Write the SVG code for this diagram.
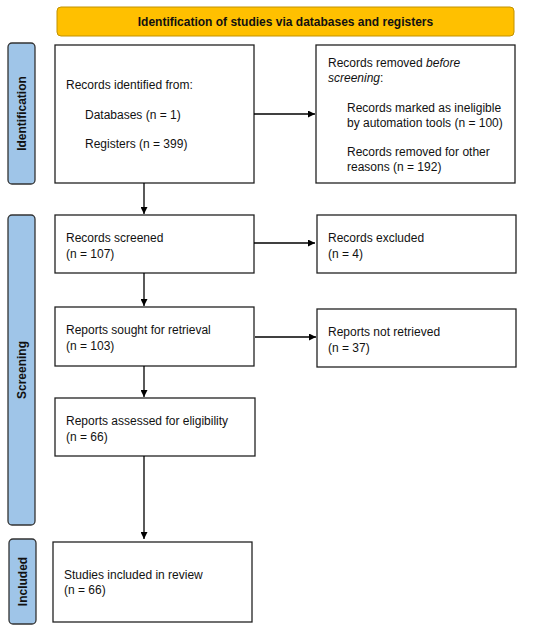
<svg xmlns="http://www.w3.org/2000/svg" width="550" height="630" viewBox="0 0 550 630">
<defs>
<marker id="ah" viewBox="0 0 10 10" refX="10" refY="5" markerWidth="7" markerHeight="7" markerUnits="userSpaceOnUse" orient="auto"><path d="M0,0 L10,5 L0,10 z" fill="#000"/></marker>
</defs>
<style>
.box{fill:#fff;stroke:#222;stroke-width:1.3}
.side{fill:#9FC5E8;stroke:#333;stroke-width:1.3}
.t{font-family:"Liberation Sans",Arial,sans-serif;font-size:12px;fill:#111}
.b{font-family:"Liberation Sans",Arial,sans-serif;font-size:12px;font-weight:bold;fill:#111}
.c{stroke:#000;stroke-width:1.3;fill:none;marker-end:url(#ah)}
</style>
<rect width="550" height="630" fill="#fff"/>
<g id="banner">
<rect x="57" y="7" width="457" height="29" rx="4" fill="#FFC000" stroke="#C29200" stroke-width="1"/>
<text class="b" x="285.5" y="26" text-anchor="middle">Identification of studies via databases and registers</text>
</g>
<g id="side-identification">
<rect class="side" x="8" y="43" width="27" height="141" rx="4"/>
<text class="b" transform="translate(26,113.5) rotate(-90)" text-anchor="middle">Identification</text>
</g>
<g id="side-screening">
<rect class="side" x="8" y="215" width="27" height="310" rx="4"/>
<text class="b" transform="translate(26,370) rotate(-90)" text-anchor="middle">Screening</text>
</g>
<g id="side-included">
<rect class="side" x="9" y="539" width="27" height="85" rx="4"/>
<text class="b" transform="translate(27,581.5) rotate(-90)" text-anchor="middle">Included</text>
</g>
<g id="records-identified">
<rect class="box" x="55" y="45" width="199" height="138"/>
<text class="t" x="66" y="89">Records identified from:</text>
<text class="t" x="85" y="119">Databases (n = 1)</text>
<text class="t" x="85" y="148">Registers (n = 399)</text>
</g>
<g id="records-removed">
<rect class="box" x="316" y="45" width="199" height="138"/>
<text class="t" x="328" y="67">Records removed <tspan font-style="italic">before</tspan></text>
<text class="t" x="328" y="82"><tspan font-style="italic">screening</tspan>:</text>
<text class="t" x="347" y="112">Records marked as ineligible</text>
<text class="t" x="347" y="127">by automation tools (n = 100)</text>
<text class="t" x="347" y="156">Records removed for other</text>
<text class="t" x="347" y="171">reasons (n = 192)</text>
</g>
<g id="records-screened">
<rect class="box" x="55" y="215" width="199" height="58"/>
<text class="t" x="66" y="242">Records screened</text>
<text class="t" x="66" y="258">(n = 107)</text>
</g>
<g id="records-excluded">
<rect class="box" x="317" y="215" width="199" height="58"/>
<text class="t" x="328" y="242">Records excluded</text>
<text class="t" x="328" y="258">(n = 4)</text>
</g>
<g id="reports-sought">
<rect class="box" x="55" y="307" width="199" height="59"/>
<text class="t" x="66" y="334">Reports sought for retrieval</text>
<text class="t" x="66" y="350">(n = 103)</text>
</g>
<g id="reports-not-retrieved">
<rect class="box" x="317" y="309" width="199" height="58"/>
<text class="t" x="328" y="336">Reports not retrieved</text>
<text class="t" x="328" y="352">(n = 37)</text>
</g>
<g id="reports-assessed">
<rect class="box" x="55" y="398" width="200" height="58"/>
<text class="t" x="66" y="425">Reports assessed for eligibility</text>
<text class="t" x="66" y="441">(n = 66)</text>
</g>
<g id="studies-included">
<rect class="box" x="53" y="542" width="199" height="80"/>
<text class="t" x="64" y="579">Studies included in review</text>
<text class="t" x="64" y="594">(n = 66)</text>
</g>
<g id="connectors">
<line class="c" x1="254" y1="114" x2="315" y2="114"/>
<line class="c" x1="144" y1="183" x2="144" y2="214"/>
<line class="c" x1="254" y1="243" x2="315" y2="243"/>
<line class="c" x1="144" y1="273" x2="144" y2="306"/>
<line class="c" x1="255" y1="337" x2="316" y2="337"/>
<line class="c" x1="144" y1="366" x2="144" y2="397"/>
<line class="c" x1="144" y1="456" x2="144" y2="539"/>
</g>
</svg>
